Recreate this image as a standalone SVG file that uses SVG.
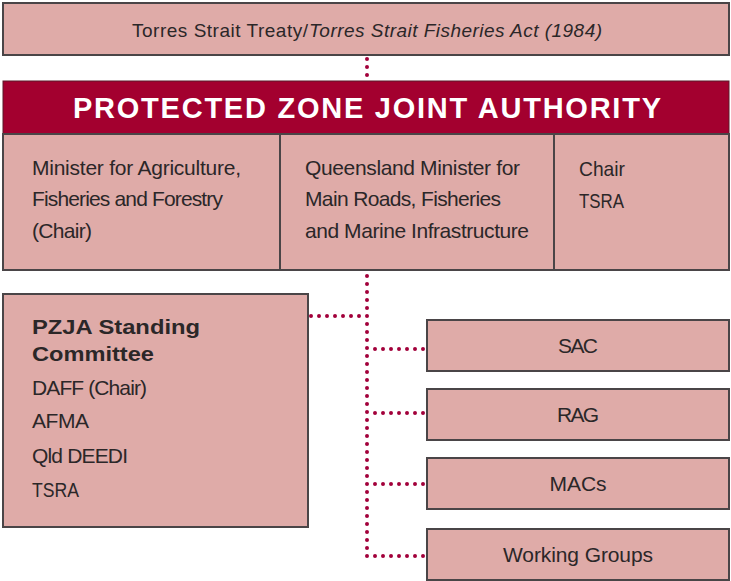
<svg xmlns="http://www.w3.org/2000/svg" width="731" height="581" viewBox="0 0 731 581">
  <style>
    .box { fill: #dfaba8; stroke: #4a4547; stroke-width: 2; }
    .bar { fill: #a3002f; stroke: #5a1a2a; stroke-width: 1; }
    .t { font-family: "Liberation Sans", Arial, sans-serif; font-size: 21px; fill: #2b2728; }
    .sm { font-size: 19px; }
    .it { font-style: italic; }
    .b { font-weight: bold; }
    .mid { text-anchor: middle; }
    .head { font-family: "Liberation Sans", Arial, sans-serif; font-size: 29px; font-weight: bold; fill: #ffffff; text-anchor: middle; }
    .dots { fill: none; stroke: #a2003a; stroke-width: 4; stroke-linecap: round; stroke-dasharray: 0 8; }
    .rule { stroke: #4a4547; stroke-width: 2; }
  </style>

  <!-- Legal basis -->
  <g id="treaty">
    <rect class="box" x="3" y="3" width="726" height="52"/>
    <text class="t sm" x="132" y="37" textLength="176">Torres Strait Treaty/</text>
    <text class="t sm it" x="309" y="37" textLength="293">Torres Strait Fisheries Act (1984)</text>
  </g>

  <!-- Joint authority heading and members -->
  <g id="pzja">
    <rect class="bar" x="3" y="81" width="726" height="53"/>
    <text class="head" x="367" y="118" textLength="588">PROTECTED ZONE JOINT AUTHORITY</text>
  </g>
  <g id="pzja-members">
    <rect class="box" x="3" y="134" width="726" height="136"/>
    <line class="rule" x1="280" y1="134" x2="280" y2="270"/>
    <line class="rule" x1="554" y1="134" x2="554" y2="270"/>
  </g>
  <g id="member-commonwealth">
    <text class="t" x="32" y="175" textLength="209">Minister for Agriculture,</text>
    <text class="t" x="32" y="206" textLength="191">Fisheries and Forestry</text>
    <text class="t" x="32" y="238" textLength="60">(Chair)</text>
  </g>
  <g id="member-queensland">
    <text class="t" x="305" y="175" textLength="215">Queensland Minister for</text>
    <text class="t" x="305" y="206" textLength="196">Main Roads, Fisheries</text>
    <text class="t" x="305" y="238" textLength="224">and Marine Infrastructure</text>
  </g>
  <g id="member-tsra">
    <text class="t" x="579" y="176" textLength="46" lengthAdjust="spacingAndGlyphs">Chair</text>
    <text class="t" x="579" y="208" textLength="45" lengthAdjust="spacingAndGlyphs">TSRA</text>
  </g>

  <!-- Standing committee -->
  <g id="standing-committee">
    <rect class="box" x="3" y="294" width="305" height="233"/>
    <text class="t b" x="32" y="334" textLength="168" lengthAdjust="spacingAndGlyphs">PZJA Standing</text>
    <text class="t b" x="32" y="361" textLength="122" lengthAdjust="spacingAndGlyphs">Committee</text>
    <text class="t" x="32" y="395" textLength="115">DAFF (Chair)</text>
    <text class="t" x="32" y="428" textLength="57">AFMA</text>
    <text class="t" x="32" y="463" textLength="96">Qld DEEDI</text>
    <text class="t" x="32" y="497" textLength="47" lengthAdjust="spacingAndGlyphs">TSRA</text>
  </g>

  <!-- Advisory bodies -->
  <g id="sac">
    <rect class="box" x="427" y="320" width="302" height="51"/>
    <text class="t mid" x="578" y="353" textLength="40">SAC</text>
  </g>
  <g id="rag">
    <rect class="box" x="427" y="389" width="302" height="51"/>
    <text class="t mid" x="578" y="422" textLength="42">RAG</text>
  </g>
  <g id="macs">
    <rect class="box" x="427" y="458" width="302" height="51"/>
    <text class="t mid" x="578" y="491" textLength="57">MACs</text>
  </g>
  <g id="working-groups">
    <rect class="box" x="427" y="529" width="302" height="51"/>
    <text class="t mid" x="578" y="562" textLength="150">Working Groups</text>
  </g>

  <!-- Dotted connectors -->
  <g id="connectors">
    <path class="dots" d="M367 59 V75.5"/>
    <path class="dots" d="M367 276 V556.5"/>
    <path class="dots" d="M311 316 H359.5"/>
    <path class="dots" d="M375 349 H423.5"/>
    <path class="dots" d="M375 413 H423.5"/>
    <path class="dots" d="M375 484 H423.5"/>
    <path class="dots" d="M375 556 H423.5"/>
  </g>
</svg>
